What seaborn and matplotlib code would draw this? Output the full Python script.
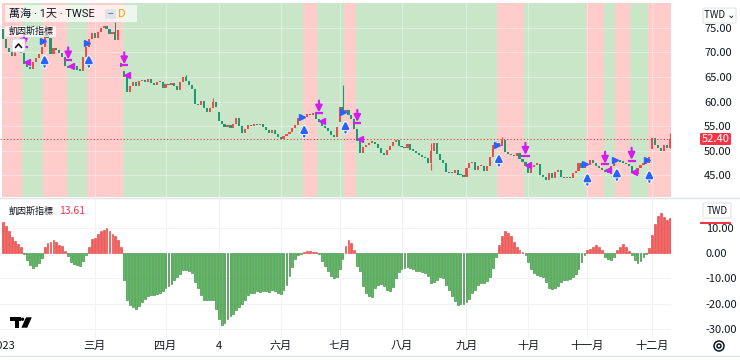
import numpy as np
import pandas as pd
import matplotlib
matplotlib.use('Agg')
import matplotlib.pyplot as plt
import matplotlib.patheffects as pe
from matplotlib.patches import Rectangle, Polygon, Ellipse, FancyBboxPatch
from matplotlib.lines import Line2D
import seaborn as sns

# daily closes (TWD)
first_open = 74.8
closes = [
    72.8, 70.8, 70.0, 69.3, 70.0, 70.4, 69.8, 67.7, 67.0, 66.7,
    68.0, 68.9, 69.6, 71.0, 73.5, 73.0, 69.6, 70.8, 70.5, 69.9,
    69.0, 67.2, 66.9, 66.8, 67.3, 66.5, 66.3, 69.0, 71.0, 72.8,
    74.0, 72.9, 74.2, 74.9, 75.3, 74.8, 73.8, 74.2, 72.5, 74.5,
    67.0, 65.0, 62.0, 63.2, 64.0, 63.1, 64.1, 64.4, 63.9, 64.5,
    63.7, 63.3, 63.9, 64.0, 62.8, 63.6, 63.3, 63.8, 63.1, 62.4,
    64.0, 65.0, 64.1, 63.3, 62.5, 59.4, 59.2, 60.2, 58.6, 57.8,
    58.6, 60.0, 58.9, 56.0, 55.4, 54.9, 55.3, 54.7, 55.5, 56.6,
    55.0, 53.6, 54.4, 55.3, 55.0, 55.5, 55.2, 55.5, 54.9, 54.2,
    53.6, 54.2, 53.4, 52.8, 52.4, 53.0, 53.4, 53.9, 54.6, 55.3,
    56.6, 57.0, 56.8, 57.4, 57.2, 57.6, 56.4, 55.8, 55.0, 54.6,
    54.0, 53.2, 52.8, 54.9, 58.9, 57.6, 58.3, 57.2, 56.4, 54.5,
    52.0, 49.6, 50.8, 51.2, 51.6, 51.8, 51.4, 50.6, 49.6, 49.2,
    50.2, 51.0, 51.8, 52.2, 51.0, 50.7, 50.5, 51.3, 50.1, 50.0,
    49.5, 49.1, 48.8, 48.5, 47.4, 50.0, 51.5, 49.4, 48.1, 47.4,
    45.7, 45.4, 45.5, 46.1, 45.1, 45.0, 44.7, 46.4, 47.4, 47.8,
    46.1, 46.8, 46.9, 45.9, 46.8, 48.8, 51.2, 51.5, 50.9, 52.2,
    49.8, 49.4, 49.1, 48.9, 49.5, 48.4, 47.8, 46.8, 45.4, 46.7,
    47.1, 47.3, 45.1, 44.7, 44.1, 45.4, 44.4, 45.7, 46.1, 44.6,
    44.4, 44.6, 44.4, 45.4, 45.8, 47.4, 46.4, 47.4, 47.0, 48.1,
    47.5, 46.9, 46.5, 46.0, 45.7, 45.4, 46.9, 48.0, 48.1, 47.8,
    47.6, 47.3, 46.8, 45.4, 45.2, 46.4, 47.1, 47.3, 47.6, 48.8,
    52.5, 51.2, 50.5, 50.0, 51.2, 50.6, 52.4,
]
# bars that opened with a gap
gap_opens = {40: 67.8, 41: 66.2, 73: 57.9, 114: 55.9, 220: 50.3}
wick_high = {38: 76.2, 62: 65.4, 71: 60.8, 115: 63.4, 145: 51.6, 169: 52.8, 226: 53.6}
wick_low = {145: 46.0, 226: 51.8}

# 凱因斯指標 histogram
hist = [
    12.2, 10.5, 8.7, 6.3, 4.7, 3.4, 2.4,
    -0.4, -2.8, -4.8, -6.0, -5.3, -4.0, -2.0,
    2.5, 4.0, 4.5, 5.0, 4.4, 3.1, 2.9, 0.6,
    -1.2, -3.5, -4.5, -4.8, -5.0, -3.0, -0.8,
    2.5, 5.5, 5.8, 7.5, 8.5, 9.0, 9.8, 8.6, 7.5, 6.8, 5.2, 2.3,
    -10.8, -18.7, -20.7, -21.3, -22.0, -21.0, -19.3, -18.0, -17.0, -16.7,
    -16.7, -16.3, -16.0, -15.0, -14.0, -13.2, -12.1, -10.8, -9.5, -8.2,
    -6.8, -6.6, -7.1, -7.9, -11.4, -13.7, -16.7, -18.4, -18.7, -18.7,
    -18.7, -22.0, -25.9, -28.6, -27.6, -25.9, -25.0, -24.0, -22.6, -21.3,
    -20.0, -18.4, -16.7, -16.0, -15.8, -15.1, -15.3, -15.0, -15.0, -15.3,
    -14.7, -15.0, -16.0, -16.3, -14.5, -12.5, -9.0, -5.5, -2.5, -0.8,
    -0.3, 0.4, 0.6, 0.6, 0.4, 0.2,
    -0.5, -3.0, -5.0, -7.0, -9.0, -10.0, -9.5, -6.5, -2.5,
    2.6, 5.3, 3.9, 1.0,
    -5.0, -7.0, -13.0, -16.0, -17.0, -17.5, -14.0, -12.5, -12.2, -13.0,
    -14.5, -15.2, -13.5, -10.0, -7.5, -6.5, -5.8, -5.5, -5.8, -6.5,
    -7.0, -7.2, -7.5, -8.0, -9.2, -12.0, -11.5, -10.5, -9.5, -10.0,
    -12.5, -14.5, -17.0, -19.0, -20.5, -20.0, -20.0, -19.5, -18.0, -16.0,
    -14.5, -12.5, -12.0, -12.0, -11.0, -9.5, -6.0, -1.5,
    3.0, 6.5, 8.7, 7.8, 6.5, 4.5, 2.3, 1.2, 0.4,
    -1.0, -3.5, -6.3, -7.8, -8.8, -9.2, -9.6, -11.5, -14.0, -14.3,
    -14.0, -13.0, -11.5, -10.8, -10.5, -10.2, -9.5, -8.5, -6.5, -3.5, -1.0,
    1.2, 1.7, 2.4, 3.3, 2.5, 1.0,
    -1.5, -2.5, -2.9, -1.5,
    1.0, 2.5, 3.4, 2.2, 0.6,
    -1.0, -2.8, -3.8, -3.0, -1.8, -0.6,
    2.0, 7.2, 11.5, 14.5, 15.8, 14.2, 13.2, 13.61,
]

month_starts = [0, 31, 55, 73, 94, 114, 135, 157, 178, 198, 220]
month_labels = ['2023', '三月', '四月', '4', '六月', '七月', '八月', '九月', '十月', '十一月', '十二月']
price_ticks = [45, 50, 55, 60, 65, 70, 75]
osc_ticks = [10, 0, -10, -20, -30]
last_price = 52.40
last_osc = 13.61

UP, DOWN = '#ec4b4f', '#1d9b70'
BAND_UP, BAND_DN = '#ffcccc', '#c9e6c9'
TXT = '#131722'
BLUE, MAG = '#2962ff', '#d41cf0'

sns.set_style('white')
plt.rcParams['font.family'] = ['Noto Sans CJK TC', 'DejaVu Sans']
LATIN_FIRST = ['Roboto', 'Noto Sans CJK TC']

W, H = 740, 360
def fx(x): return x / W
def fy(y): return 1 - y / H

n = len(closes)
idx = np.arange(n)
c = np.array(closes)
o = np.r_[first_open, c[:-1]]
for k, v in gap_opens.items():
    o[k] = v
h = np.array(hist)
up = h > 0

fig = plt.figure(figsize=(7.4, 3.6), dpi=100)
ax1 = fig.add_axes([0, fy(197), fx(671), (197 - 3) / H])
ax2 = fig.add_axes([0, fy(338), fx(671), (338 - 199) / H])
xlim = (-1.12, 226.34)

# background bands follow the sign of the oscillator
start = 0
for i in range(1, n + 1):
    if i == n or up[i] != up[start]:
        ax1.axvspan(start - 0.5, i - 0.5, color=BAND_UP if up[start] else BAND_DN, lw=0, zorder=0)
        start = i

for y in price_ticks:
    ax1.axhline(y, color='white', alpha=0.35, lw=0.8, zorder=1)
for m in month_starts[1:]:
    ax1.axvline(m, color='white', alpha=0.35, lw=0.8, zorder=1)
    ax2.axvline(m, color='#f0f3fa', lw=0.8, zorder=0)
for y in osc_ticks:
    ax2.axhline(y, color='#f0f3fa', lw=0.8, zorder=0)

# candles
cols = np.where(c >= o, UP, DOWN)
body_lo = np.minimum(o, c)
body_h = np.maximum(np.abs(c - o), 0.3)
ax1.bar(idx, body_h, bottom=body_lo, width=0.72, color=cols, lw=0, zorder=3)
for k, v in wick_high.items():
    ax1.vlines(k, max(o[k], c[k]), v, color=cols[k], lw=0.8, zorder=2.9)
for k, v in wick_low.items():
    ax1.vlines(k, v, min(o[k], c[k]), color=cols[k], lw=0.8, zorder=2.9)

ax1.axhline(last_price, color='#f23645', ls=(0, (1, 2)), lw=0.8, zorder=2)

# signal markers where the oscillator changes sign
buys = [s for s in range(1, n) if up[s] and not up[s - 1]]
sells = [s for s in range(1, n) if not up[s] and up[s - 1]]
stroke = [pe.withStroke(linewidth=3, foreground='white')]
for s in buys:
    ax1.plot(s - 0.7, (c[s - 1] + c[s]) / 2, marker='>', color=BLUE, ms=4.5, lw=0, zorder=5)
    low = min(o[s], c[s])
    a = ax1.annotate('', xy=(s, low - 1.5), xytext=(s, low - 3.9),
                     arrowprops=dict(arrowstyle='-|>,head_width=0.22,head_length=0.45', color=BLUE,
                                     lw=1.7, shrinkA=0, shrinkB=0, mutation_scale=9), zorder=5)
    a.arrow_patch.set_path_effects(stroke)
for s in sells:
    top = max(o[s], c[s]) + 1.2
    ax1.annotate('', xy=(s, top + 0.15), xytext=(s, top + 2.6),
                 arrowprops=dict(arrowstyle='-|>,head_width=0.22,head_length=0.45', color=MAG,
                                 lw=1.5, shrinkA=0, shrinkB=0, mutation_scale=9), zorder=5)
    ax1.plot([s - 1.4, s + 1.4], [top, top], color=MAG, lw=1.6, solid_capstyle='butt', zorder=5)
    ax1.plot(s + 0.9, c[s] + 0.3, marker='<', color=MAG, ms=4.5, lw=0, zorder=5)

# oscillator histogram
df = pd.DataFrame({'bar': idx, 'value': h})
sns.barplot(data=df[df['value'] > 0], x='bar', y='value', native_scale=True, color='#f05a5a',
            saturation=1, width=0.62, edgecolor='#e53935', linewidth=0.4, errorbar=None, ax=ax2, zorder=3)
sns.barplot(data=df[df['value'] <= 0], x='bar', y='value', native_scale=True, color='#5cbf60',
            saturation=1, width=0.62, edgecolor='#2e7d32', linewidth=0.4, errorbar=None, ax=ax2, zorder=3)

ax1.set_xlim(*xlim)
ax2.set_xlim(*xlim)
ax1.set_ylim(40.59, 80.02)
ax2.set_ylim(-33.6, 21.3)

ax1.set_xticks([])
ax1.yaxis.tick_right()
ax1.set_yticks(price_ticks, [f'{v:.2f}' for v in price_ticks])
ax1.tick_params(axis='y', length=0, pad=23.8, labelsize=8, labelcolor=TXT)

ax2.yaxis.tick_right()
ax2.set_yticks(osc_ticks, [f'{v:.2f}' for v in osc_ticks])
ax2.tick_params(axis='y', length=0, pad=25, labelsize=8, labelcolor=TXT)
ax2.set_xticks(month_starts, month_labels)
ax2.tick_params(axis='x', length=0, pad=2, labelsize=8, labelcolor=TXT)
ax2.set_xlabel('')
ax2.set_ylabel('')
for ax in (ax1, ax2):
    for sp in ax.spines.values():
        sp.set_visible(False)
    ax.grid(False)

# panel separators
fig.add_artist(Line2D([0, 1], [fy(198), fy(198)], transform=fig.transFigure, color='#e0e3eb', lw=1))
fig.add_artist(Line2D([0, 1], [fy(356), fy(356)], transform=fig.transFigure, color='#e0e3eb', lw=1))

def box(x0, y0, x1, y1, fc, ec='none', alpha=1, lw=0.8, pad=1.5):
    fig.add_artist(FancyBboxPatch((fx(x0), fy(y1)), fx(x1) - fx(x0), fy(y0) - fy(y1),
                                  boxstyle=f'round,pad=0,rounding_size={pad / W}',
                                  transform=fig.transFigure, fc=fc, ec=ec, alpha=alpha, lw=lw, zorder=10))

# legend overlays
box(5, 5, 137, 22, 'white', alpha=0.7)
fig.text(fx(9), fy(14), '萬海 · 1天 · TWSE', fontsize=8, color=TXT, va='center', ha='left',
         family=LATIN_FIRST, zorder=11)
box(105, 9, 116, 19, '#e0e3eb', pad=2)
fig.text(fx(110.5), fy(14), '−', fontsize=7, color='#787b86', va='center', ha='center', zorder=11, weight='bold')
fig.text(fx(122), fy(14), 'D', fontsize=8, color='#ff9800', va='center', ha='center', zorder=11)
box(5, 26, 56, 37, 'white', alpha=0.7)
fig.text(fx(9), fy(31.5), '凱因斯指標', fontsize=6.5, color=TXT, va='center', ha='left', zorder=11)
box(12, 39, 25, 52, 'white', ec='#d1d4dc', pad=2)
fig.add_artist(Line2D([fx(15.5), fx(18.5), fx(21.5)], [fy(47.5), fy(44), fy(47.5)],
                      transform=fig.transFigure, color=TXT, lw=1.2, zorder=11))

fig.text(fx(9), fy(211), '凱因斯指標', fontsize=6.5, color=TXT, va='center', ha='left')
fig.text(fx(59), fy(211), f'{last_osc:.2f}', fontsize=7.5, color='#f23645', va='center', ha='left')

# TradingView logo
fig.add_artist(Rectangle((fx(10), fy(320.7)), fx(10.7), 3.4 / H, transform=fig.transFigure, fc='black', lw=0))
fig.add_artist(Rectangle((fx(15), fy(327.7)), fx(4.3), 10.4 / H, transform=fig.transFigure, fc='black', lw=0))
fig.add_artist(Ellipse((fx(22.5), fy(319.2)), 3.4 / W, 3.4 / H, transform=fig.transFigure, fc='black', lw=0))
fig.add_artist(Polygon([(fx(26), fy(317.3)), (fx(31.8), fy(317.3)), (fx(27.2), fy(327.7)), (fx(21.4), fy(327.7))],
                       closed=True, transform=fig.transFigure, fc='black', lw=0))

# price scale widgets
box(703, 8, 736, 23, 'white', ec='#e0e3eb', pad=2)
fig.text(fx(719.5), fy(15.5), 'TWD ⌄', fontsize=7, color=TXT, va='center', ha='center', zorder=11)
box(700, 133, 731, 145, '#f23645', pad=2)
fig.text(fx(715.5), fy(139), f'{last_price:.2f}', fontsize=8, color='white', va='center', ha='center', zorder=11)
fig.add_artist(Rectangle((fx(700), fy(224)), fx(31), 2.5 / H, transform=fig.transFigure, fc='#f23645', lw=0, zorder=10))
box(703, 203, 731, 218, 'white', ec='#e0e3eb', pad=2)
fig.text(fx(717), fy(210.5), 'TWD', fontsize=7, color=TXT, va='center', ha='center', zorder=11)
fig.add_artist(Ellipse((fx(719), fy(346)), 10 / W, 10 / H, transform=fig.transFigure, fc='none', ec=TXT, lw=1.1))
fig.add_artist(Ellipse((fx(719), fy(346)), 4 / W, 4 / H, transform=fig.transFigure, fc='none', ec=TXT, lw=1.1))

fig.savefig('out.png', dpi=100)
